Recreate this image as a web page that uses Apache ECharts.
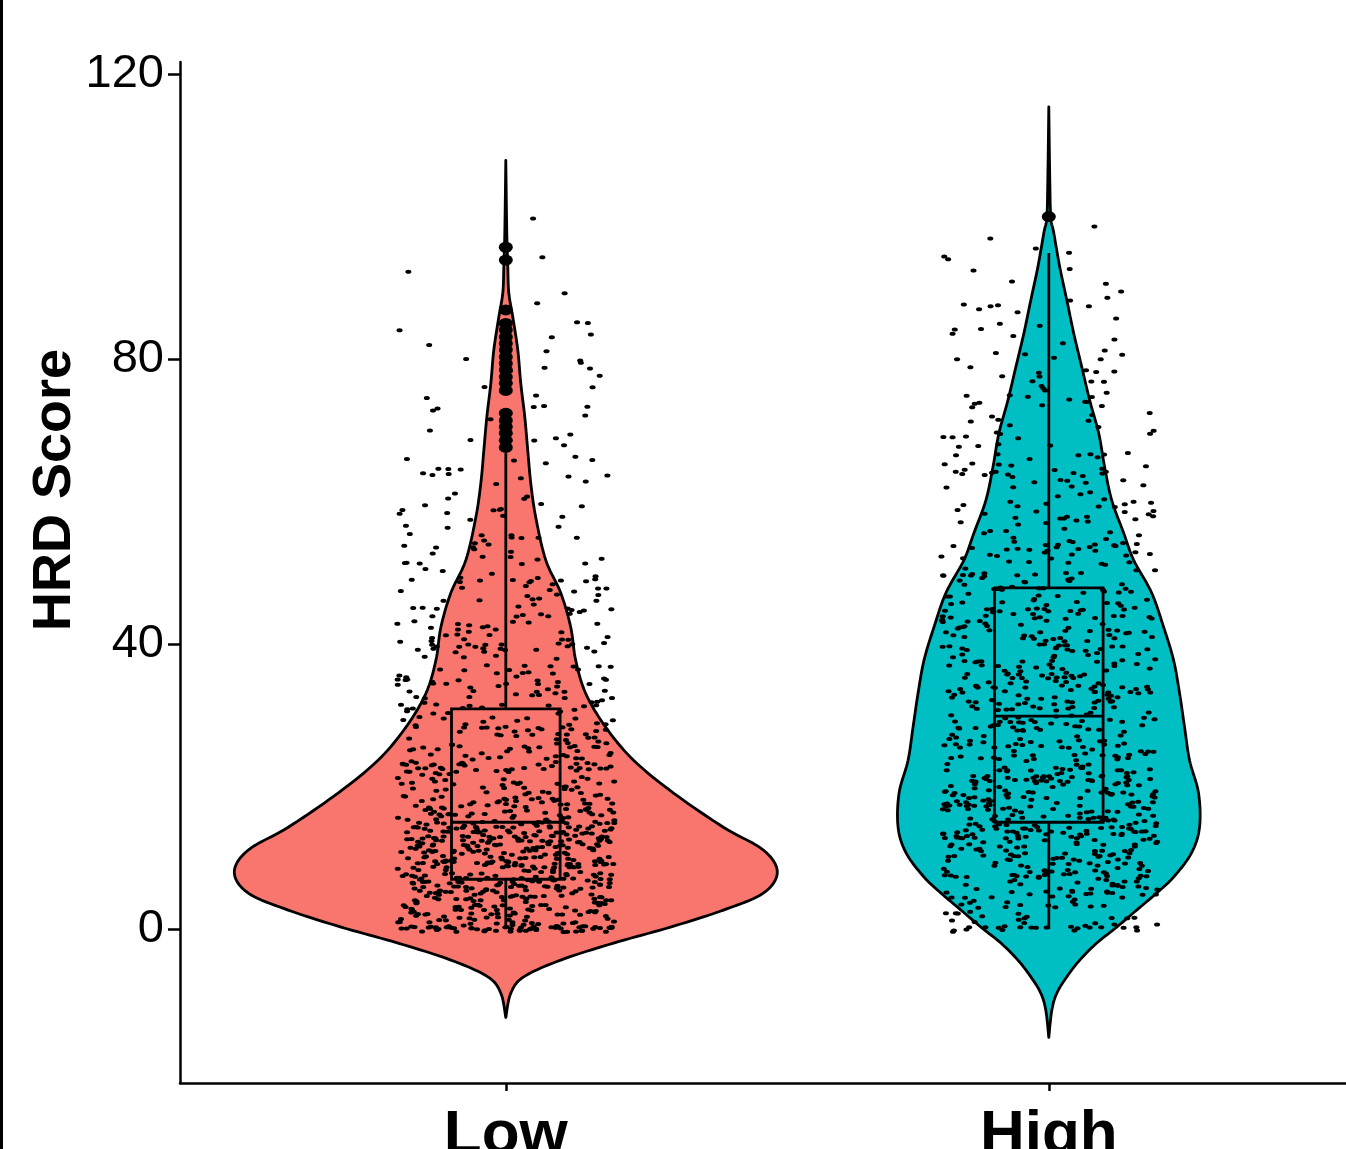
<!DOCTYPE html>
<html>
<head>
<meta charset="utf-8">
<script src="https://cdn.jsdelivr.net/npm/echarts@6/dist/echarts.min.js"></script>
<style>
html,body{margin:0;padding:0;background:#ffffff;}
#chart{width:1346px;height:1149px;}
</style>
</head>
<body>
<div id="chart"></div>
<script>
// ---------------- data ----------------
const categories = ['Low', 'High'];
const yTickValues = [0, 40, 80, 120];
const yAxisTitle = 'HRD Score';

// violin outlines: HRD value and relative density (half-width)
const lowViolinY = [-12.4, -9.0, -6.7, -4.35, -1.96, 0.28, 2.67, 5.05, 8.0, 11.1, 14.3, 19.1, 23.7, 28.35, 33.1, 37.75, 42.4, 47.2, 51.8, 57.8, 62.6, 67.2, 71.9, 76.6, 81.3, 85.9, 89.3, 92.9, 97.7, 107.9];
const lowViolinDensity = [0, 5, 18, 55, 108, 165, 218, 258, 272, 258, 218, 168, 128, 100, 80, 70, 65, 55, 40, 30, 25, 22, 19, 15, 12, 7, 3, 2, 1, 0];
const highViolinY = [-15.2, -11.4, -9.0, -6.7, -4.35, -1.96, 0.28, 2.67, 5.05, 7.3, 10.7, 14.3, 19.1, 23.7, 28.35, 33.1, 37.75, 42.4, 47.2, 51.8, 55.6, 60.2, 64.8, 69.6, 74.2, 78.9, 83.6, 88.3, 92.9, 97.7, 99.9, 105.1, 115.4];
const highViolinDensity = [0, 3, 8, 18, 31, 48, 68, 88, 108, 125, 143, 151, 150, 141, 136, 131, 125, 115, 103, 85, 75, 63, 56, 50, 41, 33, 25, 18, 11, 5, 2, 1, 0];

// box stats: [lower whisker, Q1, median, Q3, upper whisker]
const lowBox = [0, 7.0, 15.0, 30.9, 66.8];
const highBox = [0, 15.0, 29.9, 47.9, 94.9];

// outliers
const lowOutliers = [67.6, 68.6, 69.6, 70.5, 71.4, 72.4, 75.6, 76.6, 77.5, 78.5, 79.4, 80.3, 81.3, 82.2, 83.1, 84.1, 85.0, 86.9, 93.9, 95.7];
const highOutliers = [100];

// jittered observations: counts of points per 5-unit band (band starts), plus points at exactly 0
const bandStarts = [0, 5, 10, 15, 20, 25, 30, 35, 40, 45, 50, 55, 60, 65, 70, 75, 80, 85, 90, 95];
const lowZeroCount = 45;
const lowBandCounts = [125, 165, 165, 95, 78, 60, 50, 44, 38, 33, 24, 18, 15, 11, 9, 8, 7, 4, 2, 1];
const highZeroCount = 18;
const highBandCounts = [45, 82, 105, 97, 86, 68, 72, 66, 66, 50, 42, 33, 28, 24, 20, 16, 13, 10, 7, 3];

// ---------------- style ----------------
const colors = ['#F8766D', '#00BFC4'];
const violinWidthScale = 0.5 / 272;   // x-axis units per density unit
const boxHalfWidth = 0.1;
const jitterHalfWidth = 0.2;
const bandWidth = 5;
const fontFamily = '"Liberation Sans", Arial, Helvetica, sans-serif';

// ---------------- helpers ----------------
function densify(ys, ds) {
  const out = [];
  const n = ys.length;
  for (let i = 0; i < n - 1; i++) {
    const p0 = [ys[Math.max(0, i - 1)], ds[Math.max(0, i - 1)]];
    const p1 = [ys[i], ds[i]];
    const p2 = [ys[i + 1], ds[i + 1]];
    const p3 = [ys[Math.min(n - 1, i + 2)], ds[Math.min(n - 1, i + 2)]];
    const steps = 10;
    for (let s = 0; s < steps; s++) {
      const t = s / steps, t2 = t * t, t3 = t2 * t;
      const f = (a, b, c, d) => 0.5 * ((2 * b) + (-a + c) * t + (2 * a - 5 * b + 4 * c - d) * t2 + (-a + 3 * b - 3 * c + d) * t3);
      out.push([f(p0[0], p1[0], p2[0], p3[0]), Math.max(0, f(p0[1], p1[1], p2[1], p3[1]))]);
    }
  }
  out.push([ys[n - 1], ds[n - 1]]);
  return out;
}

// deterministic scatter of jitter positions (layout only)
function spread(i, seed) {
  const x = Math.sin(i * 12.9898 + seed * 78.233) * 43758.5453;
  return x - Math.floor(x);
}

function jitterPoints(center, zeroCount, counts, seed) {
  const pts = [];
  let i = 0;
  for (let k = 0; k < zeroCount; k++, i++) {
    pts.push([center + (spread(i, seed) - 0.5) * 2 * jitterHalfWidth, (spread(i, seed + 7) - 0.5) * 0.8]);
  }
  counts.forEach((c, b) => {
    for (let k = 0; k < c; k++, i++) {
      pts.push([center + (spread(i, seed) - 0.5) * 2 * jitterHalfWidth, bandStarts[b] + spread(i, seed + 7) * bandWidth]);
    }
  });
  return pts;
}

const violins = [
  { center: 1, ys: lowViolinY, ds: lowViolinDensity, color: colors[0] },
  { center: 2, ys: highViolinY, ds: highViolinDensity, color: colors[1] }
];
const boxes = [lowBox, highBox];

function renderViolin(params, api) {
  const g = violins[params.dataIndex];
  const pts = densify(g.ys, g.ds);
  const right = pts.map(p => api.coord([g.center + p[1] * violinWidthScale, p[0]]));
  const left = pts.slice().reverse().map(p => api.coord([g.center - p[1] * violinWidthScale, p[0]]));
  return {
    type: 'polygon',
    shape: { points: right.concat(left) },
    style: { fill: g.color, stroke: '#000', lineWidth: 2.8, lineJoin: 'round' }
  };
}

function renderBox(params, api) {
  const c = params.dataIndex + 1;
  const b = boxes[params.dataIndex];
  const tl = api.coord([c - boxHalfWidth, b[3]]);
  const br = api.coord([c + boxHalfWidth, b[1]]);
  const mL = api.coord([c - boxHalfWidth, b[2]]);
  const mR = api.coord([c + boxHalfWidth, b[2]]);
  const wLo = api.coord([c, b[0]]);
  const q1 = api.coord([c, b[1]]);
  const q3 = api.coord([c, b[3]]);
  const wHi = api.coord([c, b[4]]);
  const st = { stroke: '#000', lineWidth: 2.8, fill: null };
  return {
    type: 'group',
    children: [
      { type: 'line', shape: { x1: wHi[0], y1: wHi[1], x2: q3[0], y2: q3[1] }, style: st },
      { type: 'line', shape: { x1: q1[0], y1: q1[1], x2: wLo[0], y2: wLo[1] }, style: st },
      { type: 'rect', shape: { x: tl[0], y: tl[1], width: br[0] - tl[0], height: br[1] - tl[1] }, style: st },
      { type: 'line', shape: { x1: mL[0], y1: mL[1], x2: mR[0], y2: mR[1] }, style: st }
    ]
  };
}

const chart = echarts.init(document.getElementById('chart'), null, { renderer: 'canvas' });

const option = {
  animation: false,
  backgroundColor: '#ffffff',
  grid: { left: 180, right: 0, top: 62, bottom: 66, containLabel: false, outerBoundsMode: 'none' },
  xAxis: {
    type: 'value',
    min: 0.4,
    max: 0.4 + 1166 / 543,
    splitLine: { show: false },
    axisLine: { show: true, onZero: false, lineStyle: { color: '#000', width: 2.5 } },
    axisTick: { show: true, customValues: [1, 2], length: 8, lineStyle: { color: '#000', width: 2.5 } },
    axisLabel: {
      show: true, customValues: [1, 2],
      formatter: v => categories[Math.round(v) - 1] || '',
      color: '#000', fontSize: 62, fontWeight: 'bold', fontFamily: fontFamily, margin: 22
    }
  },
  yAxis: {
    type: 'value',
    min: -21.6,
    max: 121.7,
    splitLine: { show: false },
    axisLine: { show: true, onZero: false, lineStyle: { color: '#000', width: 2.5 } },
    axisTick: { show: true, customValues: yTickValues, length: 12, lineStyle: { color: '#000', width: 2.5 } },
    axisLabel: {
      show: true, customValues: yTickValues,
      color: '#000', fontSize: 47, fontFamily: fontFamily, margin: 16
    }
  },
  graphic: [
    { type: 'rect', shape: { x: 0, y: 0, width: 3, height: 1149 }, style: { fill: '#000' } },
    {
      type: 'text', x: 55, y: 490, rotation: Math.PI / 2,
      style: { text: yAxisTitle, fill: '#000', font: 'bold 54px ' + fontFamily, align: 'center', verticalAlign: 'middle' }
    }
  ],
  series: [
    {
      type: 'custom', renderItem: renderViolin, data: [[1, 0], [2, 0]],
      encode: { x: 0, y: 1 }, silent: true, clip: false
    },
    {
      type: 'custom', renderItem: renderBox, data: [[1, 0], [2, 0]],
      encode: { x: 0, y: 1 }, silent: true, clip: false
    },
    {
      type: 'scatter', silent: true,
      data: lowOutliers.map(v => [1, v]).concat(highOutliers.map(v => [2, v])),
      symbol: 'circle', symbolSize: [14, 11],
      itemStyle: { color: '#000', opacity: 1 }
    },
    {
      type: 'scatter', silent: true, large: false,
      data: jitterPoints(1, lowZeroCount, lowBandCounts, 1).concat(jitterPoints(2, highZeroCount, highBandCounts, 3)),
      symbol: 'circle', symbolSize: [6, 4],
      itemStyle: { color: '#000', opacity: 1 }
    }
  ]
};
chart.setOption(option);
</script>
</body>
</html>
